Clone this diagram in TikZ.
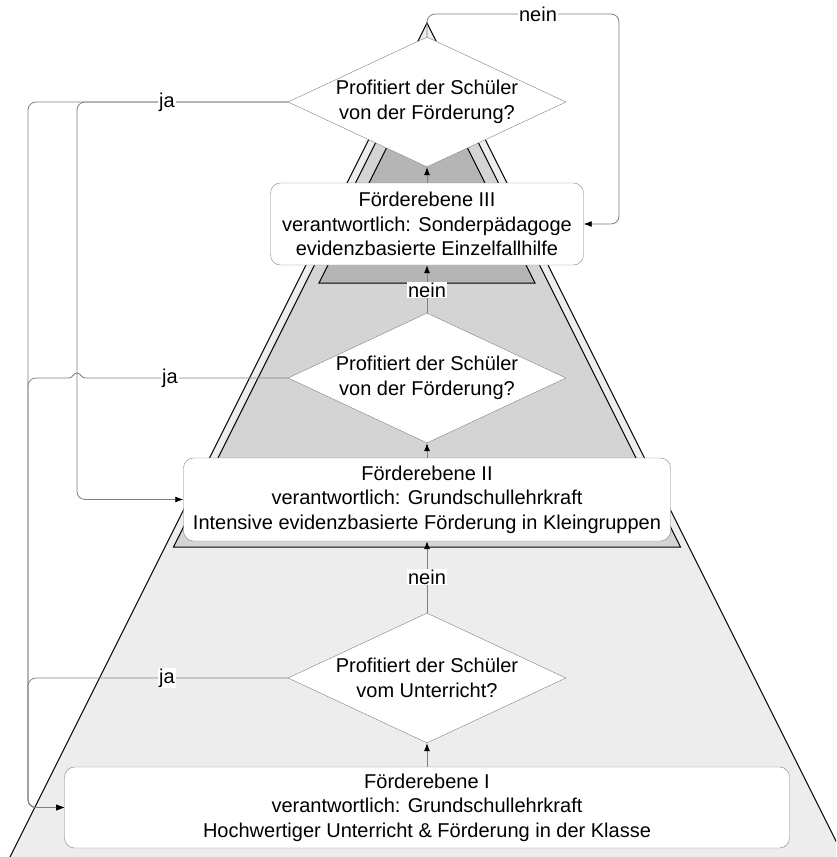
\documentclass[tikz,border=0pt]{standalone}
\usepackage{fontspec}
\setmainfont{Liberation Sans}
\usetikzlibrary{shapes.geometric,arrows.meta}
\definecolor{hell}{gray}{0.93}
\definecolor{mittel}{gray}{0.83}
\definecolor{dunkel}{gray}{0.71}
\definecolor{rand}{gray}{0.5}
\begin{document}
\begin{tikzpicture}[x=1pt, y=-1pt,
    txt/.style={font=\fontsize{20}{24.5}\selectfont, align=center},
    ebene/.style={txt, draw=rand, fill=white, rounded corners=10pt, inner sep=0pt},
    frage/.style={txt, diamond, aspect=2.14, draw=rand, fill=white, inner sep=0pt,
      minimum width=278pt, minimum height=130pt},
    flow/.style={draw=rand, line width=0.8pt, -{Latex[length=8pt,width=6pt,color=black]}},
    lbl/.style={txt, fill=white, inner sep=1pt}]
    \useasboundingbox (0,0) rectangle (836,857);
    \begin{scope}
        \clip (0,0) rectangle (836,857);
        \draw[fill=hell, line width=1pt] (427,23) -- (-20,917) -- (874,917) -- cycle;
        \draw[fill=mittel, line width=1pt] (427,40) -- (173.5,547) -- (680.5,547) -- cycle;
        \draw[fill=dunkel, line width=1pt] (427,67) -- (319,283) -- (535,283) -- cycle;
    \end{scope}
    \node[ebene, minimum width=313pt, minimum height=82pt] (lvl3) at (427,224)
        {Förderebene III\\verantwortlich: Sonderpädagoge\\evidenzbasierte Einzelfallhilfe};
    \node[ebene, minimum width=487pt, minimum height=83pt] (lvl2) at (427,499.5)
        {Förderebene II\\verantwortlich: Grundschullehrkraft\\Intensive evidenzbasierte Förderung in Kleingruppen};
    \node[ebene, minimum width=725pt, minimum height=81pt] (lvl1) at (427,807.5)
        {Förderebene I\\verantwortlich: Grundschullehrkraft\\Hochwertiger Unterricht \& Förderung in der Klasse};
    \node[frage] (d3) at (427,102) {Profitiert der Schüler\\von der Förderung?};
    \node[frage] (d2) at (427,378) {Profitiert der Schüler\\von der Förderung?};
    \node[frage] (d1) at (427,678) {Profitiert der Schüler\\vom Unterricht?};
    \coordinate (railA) at (28,0);
    \coordinate (railB) at (77,0);
    \coordinate (loop) at (619,14);
    \draw[flow] (lvl1.north) -- (d1.south);
    \draw[flow] (d1.north) -- (lvl2.south);
    \draw[flow] (lvl2.north) -- (d2.south);
    \draw[flow] (d2.north) -- (lvl3.south);
    \draw[flow] (lvl3.north) -- (d3.south);
    \draw[flow, rounded corners=8pt] (d3.north) |- (loop) |- (lvl3.east);
    \draw[flow, rounded corners=8pt] (d3.west) -| (railB |- lvl2.west) -- (lvl2.west);
    \draw[flow, rounded corners=8pt] (d3.west) -| (railA |- lvl1.west) -- (lvl1.west);
    \draw[flow] (d2.west) -- (85,378) to[out=180,in=0] (77,373) to[out=180,in=0] (69,378)
        [rounded corners=8pt] -| (railA |- lvl1.west) -- (lvl1.west);
    \draw[flow, rounded corners=8pt] (d1.west) -| (railA |- lvl1.west) -- (lvl1.west);
    \node[lbl] (nein1) at (427,577) {nein};
    \node[lbl] (nein2) at (427,290) {nein};
    \node[lbl] (nein3) at (538,14) {nein};
    \node[lbl] (ja3) at (167,102) {ja};
    \node[lbl] (ja2) at (170,378) {ja};
    \node[lbl] (ja1) at (167,678) {ja};
\end{tikzpicture}
\end{document}
